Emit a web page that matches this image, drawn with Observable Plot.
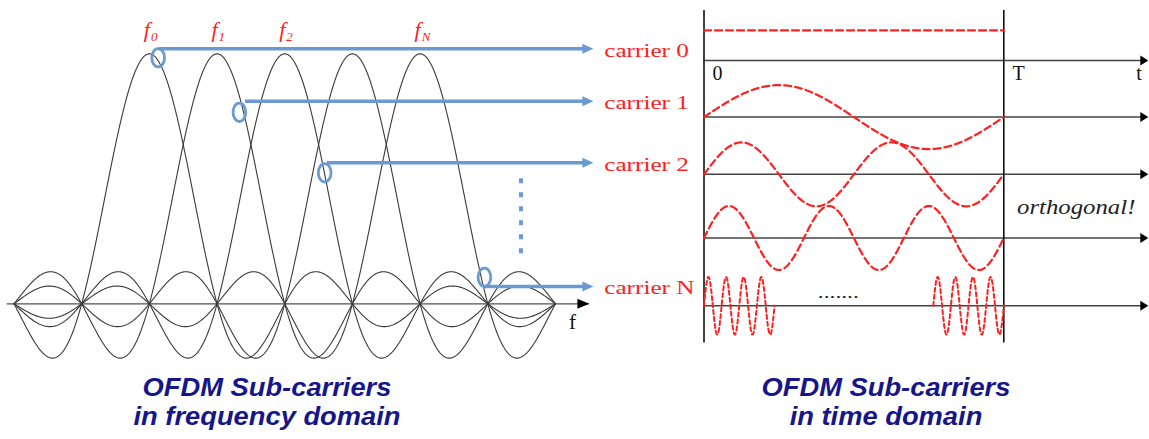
<!DOCTYPE html>
<html><head><meta charset="utf-8">
<script src="https://cdn.jsdelivr.net/npm/d3@7"></script>
<script src="https://cdn.jsdelivr.net/npm/@observablehq/plot@0.6"></script>
<style>
body{margin:0;background:#fff;}
#wrap{position:relative;width:1149px;height:439px;overflow:hidden;background:#fff;}
#freq{position:absolute;left:0;top:0;}
#time{position:absolute;left:700px;top:0;}
.title{position:absolute;top:373px;width:540px;text-align:center;font:italic bold 26px/29px "Liberation Sans",Arial,sans-serif;color:#16168a;transform:scaleX(1.05);}
</style></head><body>
<div id="wrap"><div id="freq"></div><div id="time"></div>
<div class="title" style="left:-3px">OFDM Sub-carriers<br>in frequency domain</div>
<div class="title" style="left:616px">OFDM Sub-carriers<br>in time domain</div>
</div>
<script>
// ---------- data: frequency domain ----------
const subcarrierCenters = [2, 3, 4, 5, 6];      // sinc peaks, in units of carrier spacing
const freqSpan = [0, 8];                         // drawn frequency range
const freqLabelPos = [2, 3, 4, 6];
const freqLabelSub = ["0", "1", "2", "N"];
const carrierNames = ["carrier 0", "carrier 1", "carrier 2", "carrier N"];
const markerF = [2.13, 3.33, 4.59, 6.95];        // circled sample points
const markerA = [0.984, 0.766, 0.524, 0.106];
const arrowStartF = [2.15, 3.42, 4.63, 6.95];
const arrowA = [1.02, 0.81, 0.564, 0.069];
const arrowEndF = 8.56;
const ellipsisF = 7.49, ellipsisA = [0.50, 0.197];
const freqAxisRange = [-0.1, 8.5];
const freqAxisLabel = ["f"];

// ---------- data: time domain ----------
const timeCycles = [0, 1, 2, 3, 17];             // cycles per symbol T
const timeRowBase = [0, -1.77, -3.56, -5.55, -7.67];
const timeAmp = [0.94, 1, 1, 1, 0.9];
const carrierNShown = [[0, 4], [13, 17]];        // cycles of carrier N that are drawn
const timeTicks = ["0", "T"];
const timeAxisLabel = ["t"];
const timeAxisEnd = 1.482;
const timeNotes = [{text: "orthogonal!", row: 3}];
const timeEllipsis = [{text: ".......", t: 0.448, row: 4}];

// ---------- helpers ----------
const serif = "'Liberation Serif','Times New Roman',serif";
const blue = "#6a9ad0", red = "#ff2020";
const sinc = u => Math.abs(u) < 1e-9 ? 1 : Math.sin(Math.PI * u) / (Math.PI * u);
function head(L, W) { return {draw(ctx) { ctx.moveTo(0, 0); ctx.lineTo(-L, -W); ctx.lineTo(-L, W); ctx.closePath(); }}; }
const ellipse = {draw(ctx, size) {
  const r = Math.sqrt(size / Math.PI), rx = r * 0.69, ry = r, k = 0.5523;
  ctx.moveTo(rx, 0);
  ctx.bezierCurveTo(rx, ry * k, rx * k, ry, 0, ry);
  ctx.bezierCurveTo(-rx * k, ry, -rx, ry * k, -rx, 0);
  ctx.bezierCurveTo(-rx, -ry * k, -rx * k, -ry, 0, -ry);
  ctx.bezierCurveTo(rx * k, -ry, rx, -ry * k, rx, 0);
  ctx.closePath();
}};

const spectrum = subcarrierCenters.flatMap((c, k) => d3.range(0, 801).map(i => {
  const f = freqSpan[0] + (freqSpan[1] - freqSpan[0]) * i / 800;
  return {k, f, a: sinc(f - c)};
}));
const arrows = carrierNames.map((name, i) => ({name, x1: arrowStartF[i], x2: arrowEndF, y: arrowA[i]}));
const markers = markerF.map((f, i) => ({f, a: markerA[i]}));
const freqLabels = freqLabelPos.map((p, i) => ({p, sub: freqLabelSub[i]}));

const freqPlot = Plot.plot({
  width: 700, height: 372,
  x: {domain: freqSpan, range: [13.5, 555], axis: null},
  y: {domain: [0, 1], range: [303.3, 53.3], axis: null},
  style: {background: "transparent", overflow: "visible"},
  marks: [
    Plot.ruleY([0], {x1: freqAxisRange[0], x2: freqAxisRange[1], stroke: "#505050", strokeWidth: 1.2}),
    Plot.dot([0], {x: freqAxisRange[1], y: d => d, symbol: head(12, 5), r: 5, fill: "#000", stroke: "none"}),
    Plot.line(spectrum, {x: "f", y: "a", z: "k", stroke: "#3a3a3a", strokeWidth: 1.1}),
    Plot.ruleY(arrows, {x1: "x1", x2: d => d.x2 - 0.1, y: "y", stroke: blue, strokeWidth: 3.5}),
    Plot.dot(arrows, {x: "x2", y: "y", symbol: head(11, 5), r: 5, fill: blue, stroke: "none"}),
    Plot.dot(markers, {x: "f", y: "a", symbol: ellipse, r: 9.2, fill: "none", stroke: blue, strokeWidth: 2.8}),
    Plot.ruleX([ellipsisF], {y1: ellipsisA[0], y2: ellipsisA[1], stroke: blue, strokeWidth: 4, strokeDasharray: "5,9"}),
    Plot.text(freqAxisLabel, {x: 8.25, y: 0, text: d => d, fontFamily: serif, fontSize: 21, fill: "#111", textAnchor: "middle", lineAnchor: "top", dy: 10}),
    Plot.text(freqLabels, {x: "p", y: 1, text: () => "f", fontFamily: serif, fontStyle: "italic", fontSize: 22, fill: red, textAnchor: "end", lineAnchor: "middle", dx: 0.5, dy: -24}),
    Plot.text(freqLabels, {x: "p", y: 1, text: "sub", fontFamily: serif, fontStyle: "italic", fontSize: 13, fill: red, textAnchor: "start", lineAnchor: "middle", dx: 1.5, dy: -16.5}),
    Plot.text(arrows, {x: 8.72, y: "y", text: "name", fontFamily: serif, fontSize: 18, fill: red, textAnchor: "start", lineAnchor: "middle", dy: 2})
  ]
});
document.getElementById("freq").appendChild(freqPlot);

// ---------- time domain ----------
const waves = [];
timeCycles.forEach((n, k) => {
  if (k === timeCycles.length - 1) return;
  for (let i = 0; i <= 600; i++) {
    const t = i / 600;
    const v = n === 0 ? timeAmp[k] : timeAmp[k] * Math.sin(2 * Math.PI * n * t);
    waves.push({k, t, v: timeRowBase[k] + v});
  }
});
const last = timeCycles.length - 1, nN = timeCycles[last];
const waveN = [];
carrierNShown.forEach(([a, b], s) => {
  for (let i = 0; i <= 300; i++) {
    const c = a + (b - a) * i / 300, t = c / nN;
    waveN.push({s, t, v: timeRowBase[last] + timeAmp[last] * Math.sin(2 * Math.PI * c)});
  }
});

const timePlot = Plot.plot({
  width: 449, height: 372,
  x: {domain: [0, 1], range: [3.5, 303.3], axis: null},
  y: {domain: [0, -7.67], range: [60, 305.3], axis: null},
  style: {background: "transparent", overflow: "visible"},
  marks: [
    Plot.ruleY(timeRowBase, {x1: 0, x2: timeAxisEnd - 0.01, stroke: "#444", strokeWidth: 1.5}),
    Plot.dot(timeRowBase, {x: timeAxisEnd, y: d => d, symbol: head(8, 5), r: 5, fill: "#000", stroke: "none"}),
    Plot.ruleX([0, 1], {y1: 1.5625, y2: -8.83, stroke: "#111", strokeWidth: 1.6}),
    Plot.line(waves, {x: "t", y: "v", z: "k", stroke: red, strokeWidth: 2.2, strokeDasharray: "7,4"}),
    Plot.line(waveN, {x: "t", y: "v", z: "s", stroke: red, strokeWidth: 2, strokeDasharray: "4,3"}),
    Plot.text(timeTicks, {x: (d, i) => i, y: 0, text: d => d, fontFamily: serif, fontSize: 20, fill: "#111", textAnchor: "start", lineAnchor: "top", dx: 8.6, dy: 5}),
    Plot.text(timeAxisLabel, {x: 1.4417, y: 0, text: d => d, fontFamily: serif, fontSize: 20, fill: "#111", textAnchor: "start", lineAnchor: "top", dy: 5}),
    Plot.text(timeNotes, {x: 1, y: d => timeRowBase[d.row], text: "text", fontFamily: serif, fontStyle: "italic", fontSize: 21, fill: "#222", textAnchor: "start", lineAnchor: "middle", dx: 13.2, dy: -31}),
    Plot.text(timeEllipsis, {x: "t", y: d => timeRowBase[d.row], text: "text", fontFamily: serif, fontSize: 16, fill: "#222", textAnchor: "middle", lineAnchor: "middle", dy: -13})
  ]
});
document.getElementById("time").appendChild(timePlot);

// horizontal stretch of the serif labels (the source slide was widened)
function stretch(svg, match, factor, fixed) {
  d3.select(svg).selectAll("text").each(function() {
    if (!match(this.textContent)) return;
    const w = fixed || this.getComputedTextLength() * factor;
    if (!(w > 0)) return;
    this.setAttribute("textLength", w);
    this.setAttribute("lengthAdjust", "spacingAndGlyphs");
  });
}
stretch(freqPlot, s => carrierNames.includes(s), 1.4);
stretch(timePlot, s => s === timeNotes[0].text, 1.18);
stretch(timePlot, s => s === timeEllipsis[0].text, 1, 41);
</script>
</body></html>
